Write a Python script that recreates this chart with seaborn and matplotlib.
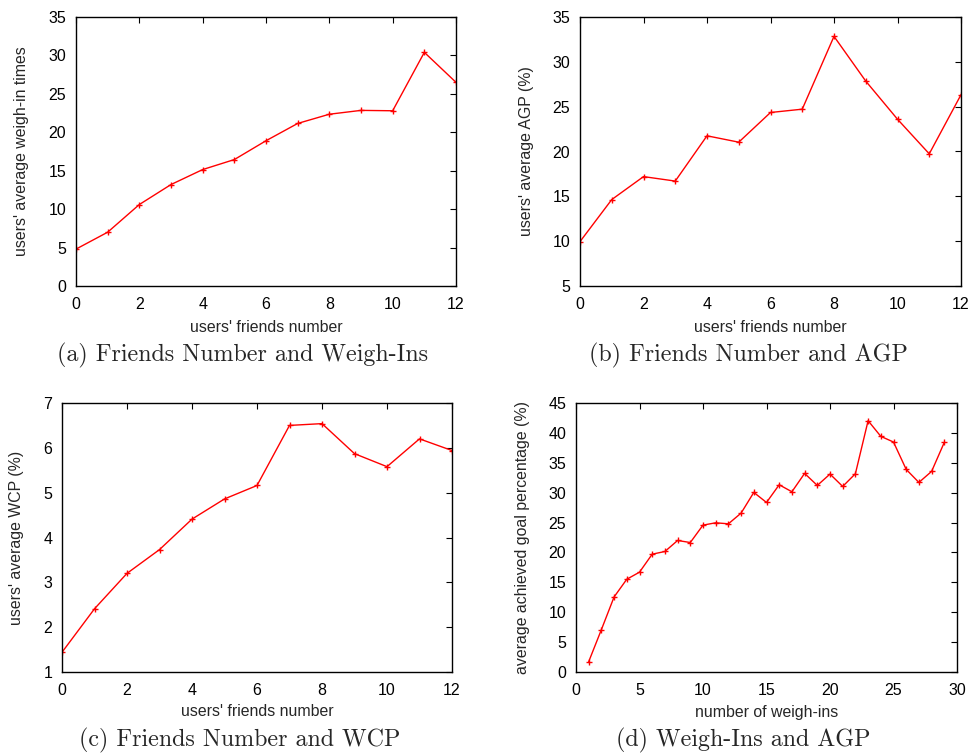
import numpy as np
import pandas as pd
import matplotlib
matplotlib.use("Agg")
import matplotlib.pyplot as plt
import seaborn as sns

# ---- data ----
friends = list(range(13))
weighins_a = [4.8, 7.0, 10.6, 13.2, 15.15, 16.45, 18.9, 21.15, 22.35, 22.85, 22.8, 30.4, 26.5]
agp_b = [9.95, 14.64, 17.2, 16.7, 21.75, 21.04, 24.35, 24.72, 32.84, 27.85, 23.6, 19.74, 26.33]
wcp_c = [1.44, 2.41, 3.2, 3.73, 4.41, 4.86, 5.16, 6.50, 6.54, 5.87, 5.58, 6.2, 5.94]
n_weighins = list(range(1, 30))
agp_d = [1.73, 7.09, 12.56, 15.52, 16.7, 19.71, 20.16, 22.0, 21.66, 24.57,
         24.96, 24.79, 26.58, 30.04, 28.36, 31.32, 30.15, 33.22, 31.21, 33.11,
         31.04, 33.17, 42.04, 39.42, 38.47, 33.89, 31.71, 33.56, 38.41]

captions = ["(a) Friends Number and Weigh-Ins", "(b) Friends Number and AGP",
            "(c) Friends Number and WCP", "(d) Weigh-Ins and AGP"]

sns.set_theme(style="white")
plt.rcParams['font.family'] = ['Liberation Sans', 'DejaVu Sans']

W, H = 972, 755
fig = plt.figure(figsize=(W / 100, H / 100), dpi=100)

def px_axes(l, t, r, b):
    return fig.add_axes([l / W, 1 - b / H, (r - l) / W, (b - t) / H])

panels = [
    dict(box=(76, 17, 456, 286), x=friends, y=weighins_a, xlim=(0, 12), ylim=(0, 35),
         xt=np.arange(0, 13, 2), yt=np.arange(0, 36, 5),
         xl="users' friends number", yl="users' average weigh-in times",
         cap=(243, 355), xlab_y=327, ylab_x=21),
    dict(box=(580, 17, 961, 286), x=friends, y=agp_b, xlim=(0, 12), ylim=(5, 35),
         xt=np.arange(0, 13, 2), yt=np.arange(5, 36, 5),
         xl="users' friends number", yl="users' average AGP (%)",
         cap=(748, 355), xlab_y=327, ylab_x=526),
    dict(box=(62, 403, 452, 672), x=friends, y=wcp_c, xlim=(0, 12), ylim=(1, 7),
         xt=np.arange(0, 13, 2), yt=np.arange(1, 8, 1),
         xl="users' friends number", yl="users' average WCP (%)",
         cap=(240, 740), xlab_y=712, ylab_x=17),
    dict(box=(576, 403, 957, 672), x=n_weighins, y=agp_d, xlim=(0, 30), ylim=(0, 45),
         xt=np.arange(0, 31, 5), yt=np.arange(0, 46, 5),
         xl="number of weigh-ins", yl="average achieved goal percentage (%)",
         cap=(743, 740), xlab_y=712, ylab_x=522),
]

for i, p in enumerate(panels):
    l, t, r, b = p['box']
    ax = px_axes(l, t, r, b)
    df = pd.DataFrame({'x': p['x'], 'y': p['y']})
    sns.lineplot(data=df, x='x', y='y', ax=ax, color='#ff0000', linewidth=1.0,
                 marker='+', markersize=5, markeredgewidth=1.0, markeredgecolor='#ff0000')
    ax.set_xlim(*p['xlim'])
    ax.set_ylim(*p['ylim'])
    ax.set_xticks(p['xt'])
    ax.set_yticks(p['yt'])
    ax.set_xlabel(p['xl'], fontsize=11.4)
    ax.set_ylabel(p['yl'], fontsize=11.4)
    ax.xaxis.label.set_va('center')
    ax.yaxis.label.set_va('center')
    ax.xaxis.set_label_coords(0.5, (b - p['xlab_y']) / (b - t))
    ax.yaxis.set_label_coords((p['ylab_x'] - l) / (r - l), 0.5)
    ax.tick_params(direction='in', length=4, width=0.8, top=True, right=True,
                   labelsize=11.5, colors='black')
    ax.tick_params(axis='x', pad=8)
    ax.tick_params(axis='y', pad=7)
    for s in ax.spines.values():
        s.set_visible(True)
        s.set_color('black')
        s.set_linewidth(1.0)
    ax.grid(False)
    fig.text(p['cap'][0] / W, 1 - p['cap'][1] / H, captions[i], ha='center', va='center',
             fontsize=17.3, family=['cmr10', 'DejaVu Serif'])

fig.savefig('out.png', dpi=100)
